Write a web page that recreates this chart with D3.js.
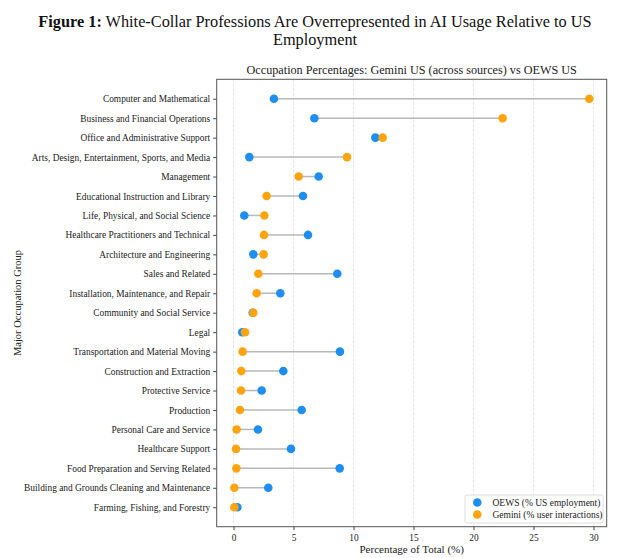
<!DOCTYPE html>
<html>
<head>
<meta charset="utf-8">
<script src="https://cdn.jsdelivr.net/npm/d3@7"></script>
<style>
  body { margin: 0; background: #fff; }
</style>
</head>
<body>
<div id="chart"></div>
<script>
// ---------------- data
const occupations = [
  "Computer and Mathematical",
  "Business and Financial Operations",
  "Office and Administrative Support",
  "Arts, Design, Entertainment, Sports, and Media",
  "Management",
  "Educational Instruction and Library",
  "Life, Physical, and Social Science",
  "Healthcare Practitioners and Technical",
  "Architecture and Engineering",
  "Sales and Related",
  "Installation, Maintenance, and Repair",
  "Community and Social Service",
  "Legal",
  "Transportation and Material Moving",
  "Construction and Extraction",
  "Protective Service",
  "Production",
  "Personal Care and Service",
  "Healthcare Support",
  "Food Preparation and Serving Related",
  "Building and Grounds Cleaning and Maintenance",
  "Farming, Fishing, and Forestry"
]
// OEWS (% US employment)
const oewsPct = [3.37, 6.74, 11.82, 1.32, 7.10, 5.79, 0.90, 6.21, 1.65, 8.65, 3.90,
                 1.60, 0.73, 8.87, 4.15, 2.35, 5.68, 2.04, 4.79, 8.85, 2.90, 0.32]
// Gemini (% user interactions)
const geminiPct = [29.65, 22.43, 12.43, 9.46, 5.43, 2.76, 2.57, 2.54, 2.51, 2.07, 1.93,
                   1.65, 0.96, 0.76, 0.65, 0.63, 0.54, 0.26, 0.21, 0.24, 0.07, 0.07]
const xTicks = [0, 5, 10, 15, 20, 25, 30]
const xDomain = [-1.4, 31.1]

const rows = occupations.map((name, i) => ({ name, oews: oewsPct[i], gemini: geminiPct[i] }))

// ---------------- dimensions
const dimensions = {
  width: 630,
  height: 558,
  leftMargin: 216.7,
  rightMargin: 23.3,
  topMargin: 79.3,
  bottomMargin: 31.3
}
dimensions.ctrWidth = dimensions.width - dimensions.leftMargin - dimensions.rightMargin
dimensions.ctrHeight = dimensions.height - dimensions.topMargin - dimensions.bottomMargin

const serif = "'Liberation Serif', 'DejaVu Serif', serif"
const blue = "#1f8ef1"
const orange = "#ffa40e"

const svg = d3.select("#chart")
  .append("svg")
  .attr("width", dimensions.width)
  .attr("height", dimensions.height)
  .style("font-family", serif)

// ---------------- titles
const title = svg.append("text")
  .attr("x", 315)
  .attr("y", 27)
  .attr("text-anchor", "middle")
  .attr("fill", "#111")
  .style("font-family", serif)
  .style("font-size", "16.3px")
title.append("tspan").style("font-weight", "bold").text("Figure 1:")
title.append("tspan").text(" White-Collar Professions Are Overrepresented in AI Usage Relative to US")

svg.append("text")
  .attr("x", 315)
  .attr("y", 45)
  .attr("text-anchor", "middle")
  .attr("fill", "#111")
  .style("font-family", serif)
  .style("font-size", "16.3px")
  .text("Employment")

const ctr = svg.append("g")
  .attr("transform", `translate(${dimensions.leftMargin},${dimensions.topMargin})`)

ctr.append("text")
  .attr("x", dimensions.ctrWidth / 2)
  .attr("y", -5)
  .attr("text-anchor", "middle")
  .attr("fill", "#222")
  .style("font-family", serif)
  .style("font-size", "12.2px")
  .text("Occupation Percentages: Gemini US (across sources) vs OEWS US")

// ---------------- scales
const xScale = d3.scaleLinear()
  .domain(xDomain)
  .range([0, dimensions.ctrWidth])

const yScale = d3.scalePoint()
  .domain(occupations)
  .range([0, dimensions.ctrHeight])
  .padding(1)

// ---------------- grid
ctr.append("g")
  .selectAll("line")
  .data(xTicks)
  .join("line")
  .attr("x1", d => xScale(d))
  .attr("x2", d => xScale(d))
  .attr("y1", 0)
  .attr("y2", dimensions.ctrHeight)
  .attr("stroke", "#dedede")
  .attr("stroke-width", 0.8)
  .attr("stroke-dasharray", "3,1.5")

// ---------------- dumbbell lines
ctr.append("g")
  .selectAll("line")
  .data(rows)
  .join("line")
  .attr("x1", d => xScale(d.oews))
  .attr("x2", d => xScale(d.gemini))
  .attr("y1", d => yScale(d.name))
  .attr("y2", d => yScale(d.name))
  .attr("stroke", "#b8b8b8")
  .attr("stroke-width", 1.5)

ctr.append("g")
  .selectAll("circle")
  .data(rows)
  .join("circle")
  .attr("cx", d => xScale(d.oews))
  .attr("cy", d => yScale(d.name))
  .attr("r", 4.3)
  .attr("fill", blue)

ctr.append("g")
  .selectAll("circle")
  .data(rows)
  .join("circle")
  .attr("cx", d => xScale(d.gemini))
  .attr("cy", d => yScale(d.name))
  .attr("r", 4.3)
  .attr("fill", orange)

// ---------------- axes
const xAxis = d3.axisBottom(xScale).tickValues(xTicks).tickSize(3.5).tickPadding(4)
const xg = ctr.append("g")
  .attr("transform", `translate(0,${dimensions.ctrHeight})`)
  .call(xAxis)
xg.select(".domain").remove()
xg.selectAll(".tick line").attr("stroke", "#444")
xg.selectAll("text").style("font-size", "9.4px").style("font-family", serif).attr("fill", "#222")

const yAxis = d3.axisLeft(yScale).tickSize(3.5).tickPadding(3)
const yg = ctr.append("g").call(yAxis)
yg.select(".domain").remove()
yg.selectAll(".tick line").attr("stroke", "#444")
yg.selectAll("text").style("font-size", "9.4px").style("font-family", serif).attr("fill", "#222")

// frame
ctr.append("rect")
  .attr("width", dimensions.ctrWidth)
  .attr("height", dimensions.ctrHeight)
  .attr("fill", "none")
  .attr("stroke", "#555")
  .attr("stroke-width", 1)

// axis labels
ctr.append("text")
  .attr("x", dimensions.ctrWidth / 2)
  .attr("y", dimensions.ctrHeight + 26)
  .attr("text-anchor", "middle")
  .attr("fill", "#222")
  .style("font-family", serif)
  .style("font-size", "11px")
  .text("Percentage of Total (%)")

svg.append("text")
  .attr("transform", `translate(21,${dimensions.topMargin + dimensions.ctrHeight / 2}) rotate(-90)`)
  .attr("text-anchor", "middle")
  .attr("fill", "#222")
  .style("font-family", serif)
  .style("font-size", "10.5px")
  .text("Major Occupation Group")

// ---------------- legend
const legend = ctr.append("g")
  .attr("transform", `translate(${dimensions.ctrWidth - 141.7},${dimensions.ctrHeight - 31.7})`)

legend.append("rect")
  .attr("width", 138)
  .attr("height", 28)
  .attr("rx", 2)
  .attr("fill", "#fff")
  .attr("fill-opacity", 0.85)
  .attr("stroke", "#d6d6d6")
  .attr("stroke-width", 0.8)

const legendItems = [
  { label: "OEWS (% US employment)", color: blue },
  { label: "Gemini (% user interactions)", color: orange }
]
const li = legend.selectAll("g.item")
  .data(legendItems)
  .join("g")
  .attr("class", "item")
  .attr("transform", (d, i) => `translate(0,${7.5 + i * 12})`)
li.append("circle").attr("cx", 12.3).attr("r", 4.3).attr("fill", d => d.color)
li.append("text")
  .attr("x", 27.5)
  .attr("dy", "0.33em")
  .attr("fill", "#222")
  .style("font-family", serif)
  .style("font-size", "9.5px")
  .text(d => d.label)
</script>
</body>
</html>
